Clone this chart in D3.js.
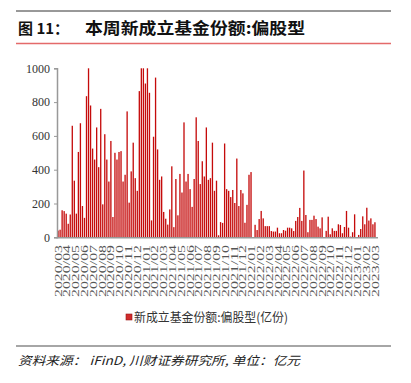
<!DOCTYPE html>
<html>
<head>
<meta charset="utf-8">
<script src="https://cdn.jsdelivr.net/npm/d3@7"></script>
<style>
  body { margin: 0; background: #fff; }
  svg { display: block; }
</style>
</head>
<body>
<div id="chart"></div>
<script>
// weekly new equity fund shares (亿份), 2020/03 - 2023/03
var values = [
  40, 45, 160, 155, 140, 80, 135, 660, 335, 140,
  505, 675, 185, 115, 835, 1000, 780, 525, 460, 650,
  415, 760, 195, 610, 460, 330, 570, 120, 500, 460,
  505, 510, 330, 370, 745, 205, 390, 560, 350, 275,
  865, 1000, 1000, 910, 1000, 855, 100, 595, 945, 520,
  340, 360, 150, 110, 75, 165, 420, 60, 345, 130,
  375, 265, 680, 330, 375, 285, 180, 345, 710, 570,
  315, 450, 360, 650, 340, 350, 560, 275, 335, 12,
  90, 85, 555, 285, 275, 238, 280, 203, 466, 185,
  280, 260, 86, 192, 370, 386, 0, 74, 43, 108,
  156, 112, 66, 66, 66, 37, 34, 34, 57, 24,
  24, 43, 39, 57, 57, 53, 37, 97, 120, 174,
  97, 395, 132, 30, 103, 103, 128, 108, 63, 53,
  118, 0, 38, 122, 18, 53, 38, 38, 77, 73,
  24, 61, 156, 57, 4, 30, 136, 0, 14, 49,
  124, 77, 175, 99, 112, 77, 89
];

var months = [
  "2020/03", "2020/04", "2020/05", "2020/06", "2020/07", "2020/08", "2020/09", "2020/10", "2020/11", "2020/12",
  "2021/01", "2021/02", "2021/03", "2021/04", "2021/05", "2021/06", "2021/07", "2021/08", "2021/09", "2021/10", "2021/11", "2021/12",
  "2022/01", "2022/02", "2022/03", "2022/04", "2022/05", "2022/06", "2022/07", "2022/08", "2022/09", "2022/10", "2022/11", "2022/12",
  "2023/01", "2023/02", "2023/03"
];

var yTicks = [0, 200, 400, 600, 800, 1000];

var titleNo = "图 11：";
var titleText = "本周新成立基金份额:偏股型";
var legendText = "新成立基金份额:偏股型(亿份)";
var sourceText = "资料来源：  iFinD, 川财证券研究所, 单位：亿元";

var W = 411, H = 383;
var plot = { left: 57, right: 376, top: 68.3, bottom: 237.3 };
var serif = "'Liberation Serif', 'DejaVu Serif', serif";

var svg = d3.select("#chart")
  .append("svg")
  .attr("width", W)
  .attr("height", H);

// header lines + title
svg.append("line")
  .attr("x1", 16).attr("x2", 391)
  .attr("y1", 11).attr("y2", 11)
  .attr("stroke", "#333").attr("stroke-width", 1);

svg.append("text")
  .attr("x", 18).attr("y", 34)
  .style("font-family", "'Noto Sans CJK SC'")
  .style("font-weight", "bold")
  .style("font-size", "15px")
  .attr("fill", "#111")
  .text(titleNo);

svg.append("text")
  .attr("x", 85).attr("y", 34)
  .attr("textLength", 220)
  .attr("lengthAdjust", "spacingAndGlyphs")
  .style("font-family", "'Noto Sans CJK SC'")
  .style("font-weight", "bold")
  .style("font-size", "16px")
  .attr("fill", "#111")
  .text(titleText);

svg.append("line")
  .attr("x1", 16).attr("x2", 391)
  .attr("y1", 43.5).attr("y2", 43.5)
  .attr("stroke", "#e46a6a").attr("stroke-width", 1.5);

// scales
var x = d3.scaleBand()
  .domain(d3.range(values.length))
  .range([plot.left, plot.right])
  .paddingInner(0.35)
  .paddingOuter(0.2);

var xm = d3.scalePoint()
  .domain(months)
  .range([plot.left + 1, plot.right - 1]);

var y = d3.scaleLinear()
  .domain([0, 1000])
  .range([plot.bottom, plot.top]);

svg.append("g")
  .selectAll("rect")
  .data(values)
  .enter()
  .append("rect")
  .attr("x", function (d, i) { return x(i); })
  .attr("width", x.bandwidth())
  .attr("y", function (d) { return y(Math.min(d, 1000)); })
  .attr("height", function (d) { return plot.bottom - y(Math.min(d, 1000)); })
  .attr("fill", "#c50b0b");

// y axis
var yAxis = svg.append("g")
  .attr("transform", "translate(" + plot.left + ",0)")
  .call(d3.axisLeft(y).tickValues(yTicks).tickFormat(d3.format("d")).tickSize(3).tickPadding(4));

yAxis.select(".domain").attr("stroke", "#999").attr("stroke-width", 1.5);
yAxis.selectAll(".tick line").attr("stroke", "#999");
yAxis.selectAll(".tick text")
  .style("font-family", serif)
  .style("font-size", "12px")
  .attr("fill", "#333");

// x axis
svg.append("line")
  .attr("x1", plot.left - 0.5).attr("x2", plot.right + 2)
  .attr("y1", plot.bottom + 0.5).attr("y2", plot.bottom + 0.5)
  .attr("stroke", "#999").attr("stroke-width", 1.5);

svg.append("g")
  .selectAll("text")
  .data(months)
  .enter()
  .append("text")
  .attr("transform", function (d) { return "translate(" + xm(d) + ",245) rotate(-90)"; })
  .attr("text-anchor", "end")
  .attr("dy", "0.35em")
  .attr("textLength", 52)
  .attr("lengthAdjust", "spacingAndGlyphs")
  .style("font-family", serif)
  .style("font-size", "10px")
  .attr("fill", "#555")
  .text(function (d) { return d; });

// legend
svg.append("rect")
  .attr("x", 126).attr("y", 314)
  .attr("width", 6).attr("height", 6)
  .attr("fill", "#d02c2c")
  .attr("stroke", "#9a1515").attr("stroke-width", 0.6);

svg.append("text")
  .attr("x", 134).attr("y", 321.5)
  .attr("textLength", 154)
  .attr("lengthAdjust", "spacingAndGlyphs")
  .style("font-family", "'Noto Sans CJK SC'")
  .style("font-size", "12.5px")
  .attr("fill", "#333")
  .text(legendText);

// footer
svg.append("line")
  .attr("x1", 16).attr("x2", 391)
  .attr("y1", 346).attr("y2", 346)
  .attr("stroke", "#888").attr("stroke-width", 1.5);

svg.append("text")
  .attr("x", 18).attr("y", 365)
  .attr("textLength", 282)
  .attr("lengthAdjust", "spacingAndGlyphs")
  .style("font-family", "'Noto Sans CJK SC'")
  .style("font-style", "italic")
  .style("font-size", "12px")
  .attr("fill", "#222")
  .text(sourceText);
</script>
</body>
</html>
